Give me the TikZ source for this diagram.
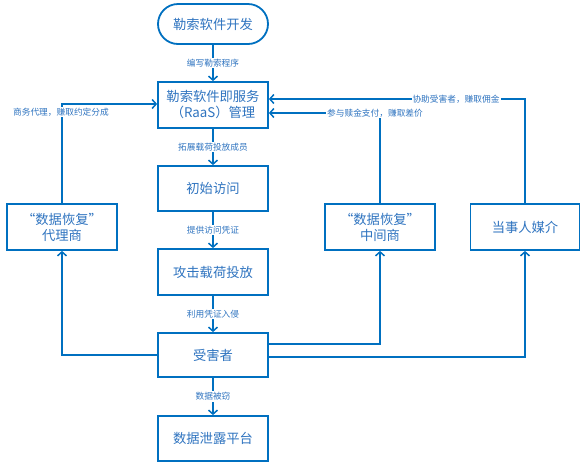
\documentclass[tikz,border=0pt]{standalone}
\usepackage{fontspec}
\setmainfont{Noto Sans CJK SC}
\usetikzlibrary{arrows.meta}
\definecolor{cblue}{HTML}{0070C0}
\definecolor{tblue}{HTML}{2F74C0}
\begin{document}
\begin{tikzpicture}[x=1pt,y=1pt,
  box/.style={draw=cblue,line width=1.8pt,fill=white,minimum width=110pt,minimum height=45pt,align=center,text=tblue,font=\fontsize{13.3}{16}\selectfont,inner sep=2pt},
  term/.style={box,rounded corners=20pt,minimum height=40pt},
  lbl/.style={fill=white,text=tblue,font=\fontsize{8.7}{10}\selectfont,inner sep=1pt},
  conn/.style={draw=cblue,line width=1.8pt,-{Straight Barb[length=4pt,width=9pt,line width=1.5pt]}}]
\useasboundingbox (0,0) rectangle (582,-467);
\node[term] (dev) at (213,-24) {勒索软件开发};
\node[box,minimum height=46pt] (raas) at (213,-105) {勒索软件即服务\\（RaaS）管理};
\node[box] (init) at (213,-188.5) {初始访问};
\node[box,minimum height=46pt] (atk) at (213,-272) {攻击载荷投放};
\node[box,minimum height=44pt] (vic) at (213,-355) {受害者};
\node[box] (leak) at (213,-438.5) {数据泄露平台};
\node[box,minimum height=46pt] (agent) at (62,-227) {“数据恢复”\\代理商};
\node[box,minimum height=46pt] (mid) at (380,-227) {“数据恢复”\\中间商};
\node[box,minimum height=46pt,minimum width=109pt] (med) at (525,-227) {当事人媒介};

\draw[conn] (dev) -- node[lbl] (l1) {编写勒索程序} (raas);
\draw[conn] (raas) -- node[lbl] (l2) {拓展载荷投放成员} (init);
\draw[conn] (init) -- node[lbl] (l3) {提供访问凭证} (atk);
\draw[conn] (atk) -- node[lbl] (l4) {利用凭证入侵} (vic);
\draw[conn] (vic) -- node[lbl] (l5) {数据被窃} (leak);

\draw[conn] (agent.north) |- ([yshift=1pt]raas.west);
\node[lbl] (l6) at (61,-112) {商务代理，赚取约定分成};
\draw[conn] (mid.north) |- ([yshift=-8pt]raas.east);
\node[lbl] (l7) at (375,-113) {参与赎金支付，赚取差价};
\draw[conn] (med.north) |- ([yshift=6pt]raas.east);
\node[lbl] (l8) at (456,-99) {协助受害者，赚取佣金};

\draw[conn] (vic.west) -| (agent.south);
\draw[conn] ([yshift=11pt]vic.east) -| (mid.south);
\draw[conn] ([yshift=-2pt]vic.east) -| (med.south);
\end{tikzpicture}
\end{document}
